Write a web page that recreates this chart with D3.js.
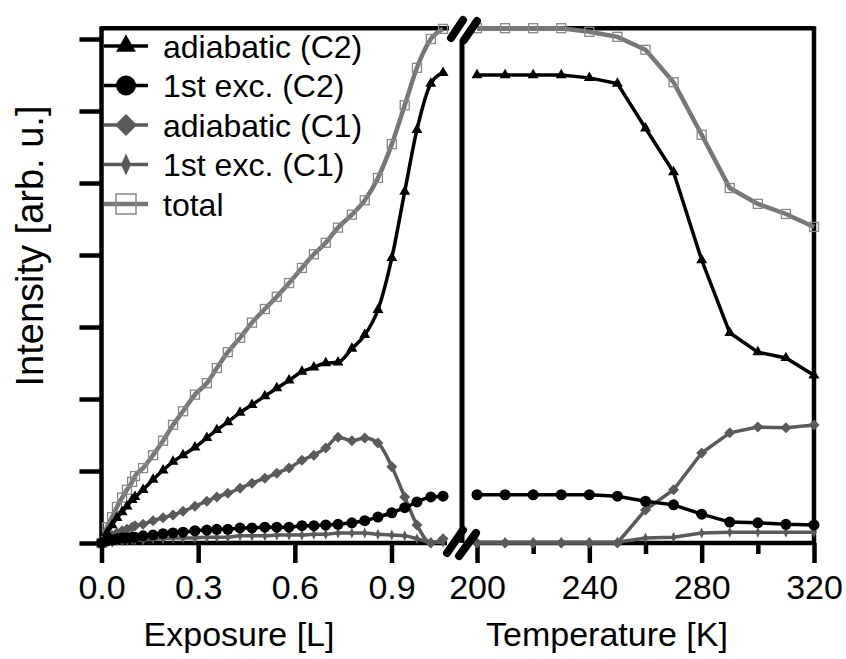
<!DOCTYPE html>
<meta charset="utf-8">
<head>
  <title>Intensity vs exposure and temperature</title>
</head>
<script src="https://d3js.org/d3.v7.min.js"></script>
<style>
  body { margin: 0; background: #fff; }
  text { font-family: "Liberation Sans", Arial, sans-serif; }
</style>
<body>
<div id="chart"></div>
<script>
  // left panel: exposure [L]
  var exposure = [0, 0.017, 0.033, 0.048, 0.064, 0.079, 0.095, 0.104, 0.129, 0.16, 0.191, 0.222, 0.253, 0.29,
    0.327, 0.358, 0.392, 0.43, 0.467, 0.507, 0.544, 0.582, 0.622, 0.659, 0.696, 0.734, 0.777, 0.817, 0.858,
    0.901, 0.941, 0.979, 1.022, 1.06];
  var adiaC2Exp = [0, 0.14, 0.25, 0.35, 0.43, 0.51, 0.6, 0.64, 0.74, 0.88, 1.01, 1.13, 1.22, 1.33, 1.46, 1.57,
    1.68, 1.81, 1.92, 2.04, 2.15, 2.26, 2.38, 2.44, 2.5, 2.51, 2.7, 2.89, 3.24, 3.96, 4.88, 5.74, 6.38, 6.53];
  var exc1C2Exp = [0, 0.03, 0.04, 0.06, 0.07, 0.07, 0.08, 0.08, 0.1, 0.11, 0.13, 0.14, 0.15, 0.17, 0.18, 0.19,
    0.19, 0.21, 0.21, 0.22, 0.22, 0.22, 0.24, 0.24, 0.25, 0.26, 0.28, 0.31, 0.36, 0.42, 0.49, 0.57, 0.64, 0.65];
  var adiaC1Exp = [0, 0.06, 0.1, 0.14, 0.17, 0.19, 0.22, 0.24, 0.26, 0.31, 0.35, 0.39, 0.44, 0.51, 0.58, 0.64,
    0.69, 0.76, 0.83, 0.9, 0.97, 1.04, 1.15, 1.22, 1.32, 1.47, 1.42, 1.46, 1.39, 1.06, 0.64, 0.25, 0, 0.06];
  var exc1C1Exp = [0, 0.01, 0.01, 0.03, 0.03, 0.03, 0.04, 0.04, 0.04, 0.06, 0.06, 0.07, 0.07, 0.07, 0.08, 0.08,
    0.08, 0.1, 0.1, 0.1, 0.11, 0.11, 0.11, 0.12, 0.12, 0.14, 0.14, 0.14, 0.12, 0.11, 0.1, 0.06, 0.01, 0.01];
  var totalExp = [0, 0.22, 0.36, 0.5, 0.63, 0.74, 0.85, 0.93, 1.04, 1.22, 1.42, 1.64, 1.83, 2.06, 2.22, 2.43,
    2.65, 2.85, 3.06, 3.25, 3.42, 3.61, 3.82, 4.01, 4.17, 4.38, 4.56, 4.76, 5.07, 5.54, 6.08, 6.6, 7.0, 7.14];

  // right panel: temperature [K]
  var temperature = [200, 210, 220, 230, 240, 250, 260, 270, 280, 290, 300, 310, 320];
  var adiaC2T = [6.5, 6.5, 6.5, 6.5, 6.46, 6.38, 5.76, 5.15, 3.93, 2.92, 2.65, 2.57, 2.33];
  var exc1C2T = [0.67, 0.67, 0.67, 0.67, 0.67, 0.65, 0.58, 0.53, 0.4, 0.29, 0.28, 0.26, 0.25];
  var adiaC1T = [0, 0, 0, 0, 0, 0, 0.46, 0.74, 1.25, 1.53, 1.61, 1.6, 1.64];
  var exc1C1T = [0.01, 0.01, 0.01, 0.01, 0.01, 0.01, 0.07, 0.08, 0.14, 0.15, 0.15, 0.15, 0.15];
  var totalT = [7.15, 7.15, 7.15, 7.15, 7.1, 7.03, 6.85, 6.4, 5.67, 4.93, 4.71, 4.57, 4.39];

  var exposureTicks = [0, 0.3, 0.6, 0.9];
  var tempTicks = [200, 240, 280, 320];
  var tempMinor = [220, 260, 300];
  var yTicks = [0, 1, 2, 3, 4, 5, 6, 7];
  var legendNames = ["adiabatic (C2)", "1st exc. (C2)", "adiabatic (C1)", "1st exc. (C1)", "total"];

  var width = 846, height = 659;
  var svg = d3.select("#chart").append("svg")
    .attr("width", width)
    .attr("height", height);

  var xL = d3.scaleLinear().domain([0, 0.9]).range([101.5, 391.5]);
  var xR = d3.scaleLinear().domain([200, 320]).range([477, 814]);
  var y = d3.scaleLinear().domain([0, 7]).range([543, 39]);
  var yTop = y(7.15), yBot = y(0);

  // series styles
  var series = [
    { name: "total", color: "#777", mcolor: "#888", marker: "square", left: totalExp, right: totalT, w: 4.5 },
    { name: "exc1C1", color: "#5a5a5a", mcolor: "#5a5a5a", marker: "thin", left: exc1C1Exp, right: exc1C1T, w: 3.5 },
    { name: "adiaC1", color: "#5a5a5a", mcolor: "#5a5a5a", marker: "diamond", left: adiaC1Exp, right: adiaC1T, w: 3.5 },
    { name: "exc1C2", color: "#000", mcolor: "#000", marker: "circle", left: exc1C2Exp, right: exc1C2T, w: 3.5 },
    { name: "adiaC2", color: "#000", mcolor: "#000", marker: "triangle", left: adiaC2Exp, right: adiaC2T, w: 3.5 }
  ];

  function drawMarker(g, type, color) {
    if (type == "square") {
      g.append("rect").attr("x", -4.5).attr("y", -4.5).attr("width", 9).attr("height", 9)
        .attr("fill", "none").attr("stroke", color).attr("stroke-width", 1.3);
    } else if (type == "circle") {
      g.append("circle").attr("r", 5.5).attr("fill", color);
    } else if (type == "triangle") {
      g.append("path").attr("d", d3.symbol().type(d3.symbolTriangle).size(52)()).attr("fill", color);
    } else if (type == "diamond") {
      g.append("path").attr("d", "M0,-5.5L5.5,0L0,5.5L-5.5,0Z").attr("fill", color);
    } else {
      g.append("path").attr("d", "M0,-5.5L2.6,0L0,5.5L-2.6,0Z").attr("fill", color);
    }
  }

  var lineL = d3.line().curve(d3.curveMonotoneX)
    .x(function (d) { return xL(d[0]) })
    .y(function (d) { return y(d[1]) });
  var lineR = d3.line()
    .x(function (d) { return xR(d[0]) })
    .y(function (d) { return y(d[1]) });

  // frame
  var frame = svg.append("g").attr("stroke", "#000").attr("stroke-width", 4.5).attr("fill", "none");
  frame.append("line").attr("x1", xL(0)).attr("x2", xL(0)).attr("y1", yTop - 2).attr("y2", yBot + 2);
  frame.append("line").attr("x1", xL(0)).attr("x2", 449).attr("y1", yTop).attr("y2", yTop);
  frame.append("line").attr("x1", xL(0)).attr("x2", 447).attr("y1", yBot).attr("y2", yBot);
  frame.append("line").attr("x1", xR(200)).attr("x2", xR(320)).attr("y1", yTop).attr("y2", yTop);
  frame.append("line").attr("x1", xR(200)).attr("x2", xR(320)).attr("y1", yBot).attr("y2", yBot);
  frame.append("line").attr("x1", xR(320)).attr("x2", xR(320)).attr("y1", yTop - 2).attr("y2", yBot + 2);
  frame.append("line").attr("x1", 462).attr("x2", 462).attr("y1", 40).attr("y2", yBot)
    .attr("stroke-width", 5);

  // axes
  var yAxis = svg.append("g")
    .attr("transform", "translate(" + xL(0) + ",0)")
    .call(d3.axisLeft(y).tickValues(yTicks).tickSize(22).tickFormat(""));
  var xAxisL = svg.append("g")
    .attr("transform", "translate(0," + yBot + ")")
    .call(d3.axisBottom(xL).tickValues(exposureTicks).tickSize(20).tickPadding(12).tickFormat(d3.format(".1f")));
  var xAxisR = svg.append("g")
    .attr("transform", "translate(0," + yBot + ")")
    .call(d3.axisBottom(xR).tickValues(tempTicks).tickSize(20).tickPadding(12).tickFormat(d3.format("d")));
  var xMinorR = svg.append("g")
    .attr("transform", "translate(0," + yBot + ")")
    .call(d3.axisBottom(xR).tickValues(tempMinor).tickSize(11).tickFormat(""));
  [yAxis, xAxisL, xAxisR, xMinorR].forEach(function (a) {
    a.select(".domain").remove();
    a.selectAll(".tick line").attr("stroke", "#000").attr("stroke-width", 4.5);
    a.selectAll(".tick text").attr("fill", "#000").style("font-size", "34px")
      .style("font-family", "'Liberation Sans', Arial, sans-serif");
  });

  // data
  var dataG = svg.append("g");
  series.forEach(function (s) {
    var ptsL = exposure.map(function (e, i) { return [e, s.left[i]] });
    var ptsR = temperature.map(function (t, i) { return [t, s.right[i]] });
    dataG.append("path").datum(ptsL).attr("d", lineL)
      .attr("fill", "none").attr("stroke", s.color).attr("stroke-width", s.w);
    dataG.append("path").datum(ptsR).attr("d", lineR)
      .attr("fill", "none").attr("stroke", s.color).attr("stroke-width", s.w);
    ptsL.forEach(function (p) {
      drawMarker(dataG.append("g").attr("transform", "translate(" + xL(p[0]) + "," + y(p[1]) + ")"), s.marker, s.mcolor);
    });
    ptsR.forEach(function (p) {
      drawMarker(dataG.append("g").attr("transform", "translate(" + xR(p[0]) + "," + y(p[1]) + ")"), s.marker, s.mcolor);
    });
  });

  // axis break marks
  var brk = svg.append("g").attr("stroke", "#000").attr("stroke-width", 8).attr("stroke-linecap", "round");
  brk.append("line").attr("x1", 451).attr("y1", 38).attr("x2", 463).attr("y2", 20);
  brk.append("line").attr("x1", 464).attr("y1", 40).attr("x2", 477).attr("y2", 21);
  brk.append("line").attr("x1", 447).attr("y1", 553).attr("x2", 463).attr("y2", 530);
  brk.append("line").attr("x1", 459).attr("y1", 556).attr("x2", 476).attr("y2", 533);

  // legend
  var legendKeys = ["adiaC2", "exc1C2", "adiaC1", "exc1C1", "total"];
  var legend = svg.append("g");
  legendKeys.forEach(function (k, i) {
    var s = series.filter(function (d) { return d.name == k })[0];
    var ly = 46 + i * 39.5;
    legend.append("line").attr("x1", 104).attr("x2", 148).attr("y1", ly).attr("y2", ly)
      .attr("stroke", s.color).attr("stroke-width", s.w);
    var g = legend.append("g").attr("transform", "translate(126," + ly + ")");
    if (s.marker == "square") {
      g.append("rect").attr("x", -10).attr("y", -10).attr("width", 20).attr("height", 20)
        .attr("fill", "none").attr("stroke", s.mcolor).attr("stroke-width", 1.5);
    } else if (s.marker == "circle") {
      g.append("circle").attr("r", 10).attr("fill", s.mcolor);
    } else if (s.marker == "triangle") {
      g.append("path").attr("d", d3.symbol().type(d3.symbolTriangle).size(170)()).attr("fill", s.mcolor);
    } else if (s.marker == "diamond") {
      g.append("path").attr("d", "M0,-11L11,0L0,11L-11,0Z").attr("fill", s.mcolor);
    } else {
      g.append("path").attr("d", "M0,-11L5,0L0,11L-5,0Z").attr("fill", s.mcolor);
    }
    legend.append("text").attr("x", 163).attr("y", ly + 11.5)
      .style("font-size", "32px").attr("fill", "#000").text(legendNames[i]);
  });

  // axis titles
  svg.append("text").attr("x", 239).attr("y", 646).attr("text-anchor", "middle")
    .style("font-size", "34px").text("Exposure [L]");
  svg.append("text").attr("x", 607).attr("y", 646).attr("text-anchor", "middle")
    .style("font-size", "34px").text("Temperature [K]");
  svg.append("text").attr("transform", "translate(43,246) rotate(-90)").attr("text-anchor", "middle")
    .style("font-size", "38px").text("Intensity [arb. u.]");
</script>
</body>
